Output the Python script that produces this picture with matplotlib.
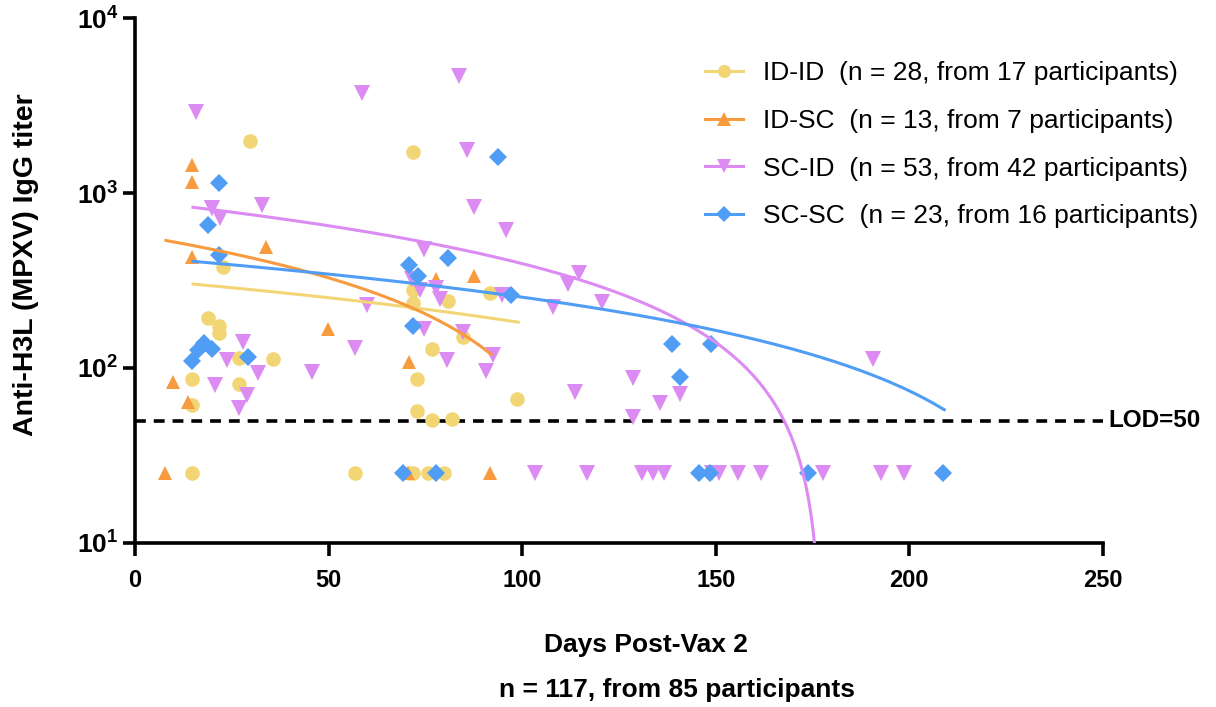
import numpy as np
import matplotlib
matplotlib.use('Agg')
import matplotlib.pyplot as plt

plt.rcParams['font.family'] = ['Liberation Sans', 'DejaVu Sans']
plt.rcParams['mathtext.fontset'] = 'custom'
plt.rcParams['mathtext.bf'] = 'Liberation Sans:bold'
plt.rcParams['mathtext.rm'] = 'Liberation Sans:bold'

# days post vax 2 / titer (values < LOD plotted at 25)
idid_days = [29.7, 22.8, 18.8, 21.7, 21.7, 26.9, 35.6, 14.8, 26.9, 14.8, 14.8,
             71.8, 71.8, 91.7, 80.8, 71.8, 84.7, 76.7, 72.8, 72.8, 76.7, 81.8,
             98.7, 56.8, 70.8, 75.7, 79.8, 71.8]
idid_titer = [1980, 378, 193, 174, 158, 114, 112, 86, 81, 61.5, 25,
              1710, 279, 268, 240, 235, 150, 128, 86, 57, 50.5, 51,
              66.5, 25, 25, 25, 25, 25]

idsc_days = [14.8, 14.8, 14.8, 33.8, 49.8, 9.7, 13.6, 7.8, 77.7, 87.6, 70.8, 70.5, 91.7]
idsc_titer = [1445, 1155, 430, 491, 167, 83, 64, 25, 323, 336, 108, 25, 25]

scid_days = [15.7, 19.8, 32.7, 22.0, 27.9, 23.7, 31.8, 45.7, 20.7, 28.9, 26.9,
             58.6, 83.7, 85.7, 87.6, 95.7, 74.6, 71.6, 73.6, 77.7, 78.8, 94.8,
             59.9, 74.6, 84.7, 56.8, 80.6, 92.5, 90.7, 103.3,
             114.7, 111.8, 107.9, 120.6, 128.6, 113.6, 140.8, 135.6, 128.6,
             116.7, 130.9, 133.7, 136.7, 149.0, 150.9, 155.8, 161.6, 177.7,
             190.6, 192.7, 198.6, 19.8, 74.6]
scid_titer = [2900, 820, 850, 720, 141, 111, 94, 95, 80, 70, 59,
              3730, 4670, 1760, 830, 615, 479, 323, 279, 287, 248, 261,
              229, 167, 160, 130, 111, 119, 96, 25,
              349, 302, 223, 238, 88, 73, 71, 63, 52.5,
              25, 25, 25, 25, 25, 25, 25, 25, 25,
              112, 25, 25, 820, 479]

scsc_days = [21.7, 18.8, 21.7, 17.9, 19.8, 16.4, 14.8, 29.2, 93.7, 80.8, 70.8,
             73.0, 97.1, 71.8, 69.2, 77.7, 138.7, 148.8, 140.8, 145.7, 148.5,
             173.8, 208.7]
scsc_titer = [1140, 656, 443, 139, 128, 127, 110, 116, 1610, 426, 388,
              336, 261, 174, 25, 25, 137, 137, 89, 25, 25, 25, 25]

# linear fits (intercept, slope, first day, last day)
fit_a = [323, 575, 905, 434]
fit_b = [1.417, 4.95, 5.1, 1.8]
fit_x0 = [15, 8, 15, 15]
fit_x1 = [99, 92, 176.5, 209]

labels = ['ID-ID  (n = 28, from 17 participants)',
          'ID-SC  (n = 13, from 7 participants)',
          'SC-ID  (n = 53, from 42 participants)',
          'SC-SC  (n = 23, from 16 participants)']
colors = ['#F2D675', '#F89A3E', '#DC8BF3', '#4F9DF4']
markers = ['o', '^', 'v', 'D']
msizes = [10.5, 10.5, 11.5, 9]

groups = [(idid_days, idid_titer), (idsc_days, idsc_titer),
          (scid_days, scid_titer), (scsc_days, scsc_titer)]

fig = plt.figure(figsize=(12.16, 7.07), dpi=100)
ax = fig.add_axes([0.111, 0.232, 0.796, 0.7425])

for i, (d, t) in enumerate(groups):
    ax.plot(d, t, linestyle='none', marker=markers[i], color=colors[i],
            markersize=msizes[i], markeredgewidth=0, zorder=3)

handles = []
for i in range(4):
    xs = np.linspace(fit_x0[i], fit_x1[i], 600)
    ys = fit_a[i] - fit_b[i] * xs
    ax.plot(xs, ys, color=colors[i], linewidth=2.2, zorder=4)
    h, = ax.plot([], [], color=colors[i], linewidth=2.2, marker=markers[i],
                 markersize=msizes[i] * 0.9, markeredgewidth=0)
    handles.append(h)

ax.axhline(50, color='black', linestyle=(0, (3, 2.2)), linewidth=2.6, zorder=2)
ax.text(251.5, 50, 'LOD=50', fontsize=17.5, fontweight='bold', va='center',
        ha='left', clip_on=False)

ax.set_yscale('log')
ax.set_ylim(10, 10000)
ax.set_xlim(0, 250)
ax.set_xticks([0, 50, 100, 150, 200, 250])
ax.set_yticks([10, 100, 1000, 10000])
ax.set_yticklabels([r'$\mathbf{10^{1}}$', r'$\mathbf{10^{2}}$',
                    r'$\mathbf{10^{3}}$', r'$\mathbf{10^{4}}$'])
ax.yaxis.set_minor_locator(matplotlib.ticker.NullLocator())

for s in ['top', 'right']:
    ax.spines[s].set_visible(False)
for s in ['left', 'bottom']:
    ax.spines[s].set_linewidth(2.6)
ax.tick_params(axis='x', which='major', length=9, width=2.6,
               labelsize=17, direction='out', pad=10)
ax.tick_params(axis='y', which='major', length=9, width=2.6,
               labelsize=19, direction='out', pad=3)
for lbl in ax.get_xticklabels():
    lbl.set_fontweight('bold')

ax.set_ylabel('Anti-H3L (MPXV) IgG titer', fontsize=20.5, fontweight='bold')
ax.yaxis.set_label_coords(-0.099, 0.53)
fig.text(0.531, 0.087, 'Days Post-Vax 2', fontsize=19, fontweight='bold',
         ha='center', va='center')
fig.text(0.557, 0.024, 'n = 117, from 85 participants', fontsize=19,
         fontweight='bold', ha='center', va='center')

fig.legend(handles, labels, loc='upper left', bbox_to_anchor=(0.56, 0.947),
           frameon=False, fontsize=19, handlelength=1.45, labelspacing=0.9,
           handletextpad=0.76)

fig.savefig('out.png', dpi=100)
